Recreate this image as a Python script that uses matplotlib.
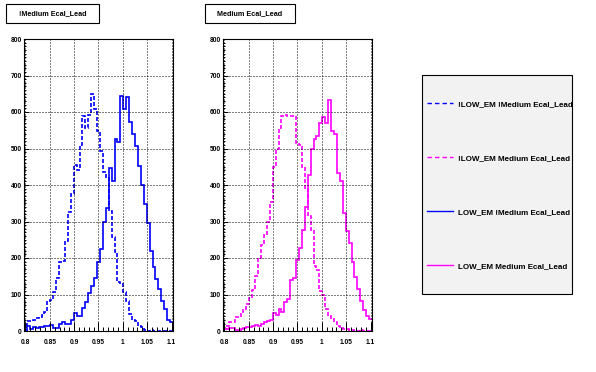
import numpy as np
import matplotlib
matplotlib.use("Agg")
import matplotlib.pyplot as plt
from matplotlib.patches import Rectangle
from matplotlib.lines import Line2D
from matplotlib.ticker import MultipleLocator, FuncFormatter

plt.rcParams["font.family"] = ["Liberation Sans", "DejaVu Sans"]
plt.rcParams["font.weight"] = "bold"

# 51 bins of width 0.006, centred on 0.800 ... 1.100
edges = np.linspace(0.797, 1.103, 52)

# left pad: !Medium Ecal_Lead
notlow_notmed = [3, 27, 28, 29, 35, 38, 43, 52, 83, 85, 106, 145, 190, 192, 247, 327, 374,
                 455, 440, 510, 588, 555, 593, 649, 607, 548, 494, 436, 420, 329, 257, 217,
                 135, 128, 106, 82, 46, 31, 28, 14, 11, 3, 1, 2, 1, 0, 1, 0, 1, 0, 0]
low_notmed = [4, 14, 6, 10, 9, 11, 11, 13, 13, 17, 9, 9, 20, 25, 18, 20, 31,
              49, 42, 42, 64, 80, 103, 122, 145, 188, 225, 300, 336, 446, 410, 526,
              518, 645, 608, 642, 573, 540, 506, 453, 400, 349, 296, 219, 174, 142, 114,
              82, 59, 31, 26]

# right pad: Medium Ecal_Lead
notlow_med = [5, 14, 26, 26, 39, 39, 48, 61, 73, 91, 113, 150, 200, 235, 262, 300, 354,
              450, 499, 557, 589, 592, 590, 590, 589, 515, 510, 450, 390, 315, 276, 177,
              168, 110, 100, 61, 40, 34, 26, 14, 9, 6, 5, 4, 2, 1, 1, 3, 0, 0, 0]
low_med = [5, 6, 9, 7, 3, 1, 5, 8, 11, 11, 13, 17, 14, 20, 25, 28, 31,
           50, 45, 61, 53, 80, 89, 140, 144, 194, 227, 277, 340, 428, 500, 525,
           533, 571, 587, 569, 632, 548, 541, 434, 411, 322, 273, 241, 189, 149, 115,
           83, 58, 42, 34]

pad_titles = ["!Medium Ecal_Lead", "Medium Ecal_Lead"]
legend_labels = ["!LOW_EM !Medium Ecal_Lead", "!LOW_EM Medium Ecal_Lead",
                 "LOW_EM !Medium Ecal_Lead", "LOW_EM Medium Ecal_Lead"]
BLUE, MAGENTA = "#0000ff", "#ff00ff"
DASH = (0, (2.4, 1.2))

W, H = 596, 372
fig = plt.figure(figsize=(W / 100, H / 100), dpi=100)
fig.patch.set_facecolor("white")


def px_rect(x0, y0, x1, y1):
    # pixel box (top-left origin) -> figure fraction [left, bottom, width, height]
    return [x0 / W, 1 - y1 / H, (x1 - x0) / W, (y1 - y0) / H]


def make_pad(x0, dashed_vals, solid_vals, color, title, title_box):
    ax = fig.add_axes(px_rect(x0, 39, x0 + 149, 331))
    ax.stairs(dashed_vals, edges, color=color, lw=1.2, linestyle=DASH, baseline=None)
    ax.stairs(solid_vals, edges, color=color, lw=1.2, baseline=None)
    ax.set_xlim(edges[0], edges[-1])
    ax.set_ylim(0, 800)
    ax.xaxis.set_major_locator(MultipleLocator(0.05))
    ax.xaxis.set_minor_locator(MultipleLocator(0.01))
    ax.yaxis.set_major_locator(MultipleLocator(100))
    ax.yaxis.set_minor_locator(MultipleLocator(10))
    ax.xaxis.set_major_formatter(FuncFormatter(lambda v, p: f"{v:g}"))
    ax.tick_params(axis="both", which="both", direction="in", top=False, right=False,
                   labelsize=4.8, width=0.7)
    ax.tick_params(axis="x", which="major", length=6.5, pad=5.6)
    ax.tick_params(axis="x", which="minor", length=3.2)
    ax.tick_params(axis="y", which="major", length=3.3, pad=1.6)
    ax.tick_params(axis="y", which="minor", length=1.5)
    ax.grid(True, which="major", color="black", lw=0.72, linestyle=(0, (1, 2)))
    for s in ax.spines.values():
        s.set_linewidth(0.8)
    bx0, by0, bx1, by1 = title_box
    fig.add_artist(Rectangle((bx0 / W, 1 - by1 / H), (bx1 - bx0) / W, (by1 - by0) / H,
                             transform=fig.transFigure, fill=False, ec="black", lw=0.8))
    fig.text((bx0 + bx1) / 2 / W, 1 - (by0 + by1) / 2 / H, title, ha="center",
             va="center", fontsize=5.2, fontweight="bold")
    return ax


make_pad(24, notlow_notmed, low_notmed, BLUE, pad_titles[0], (6, 4, 99, 23))
make_pad(223, notlow_med, low_med, MAGENTA, pad_titles[1], (205, 4, 295, 23))

# legend box
fig.add_artist(Rectangle((422 / W, 1 - 294 / H), 150 / W, 219 / H, transform=fig.transFigure,
                         facecolor="#f2f2f2", edgecolor="black", lw=0.8, zorder=0))
handles = [Line2D([], [], color=BLUE, lw=1.0, linestyle=(0, (3.2, 2.2))),
           Line2D([], [], color=MAGENTA, lw=1.0, linestyle=(0, (3.2, 2.2))),
           Line2D([], [], color=BLUE, lw=1.0),
           Line2D([], [], color=MAGENTA, lw=1.0)]
fig.legend(handles, legend_labels, loc="center left",
           bbox_to_anchor=(427 / W, 1 - 185 / H), frameon=False,
           prop={"weight": "bold", "size": 5.8}, handlelength=3.2, handletextpad=0.6,
           labelspacing=5.75, borderpad=0, borderaxespad=0)

fig.savefig("out.png", dpi=100)
